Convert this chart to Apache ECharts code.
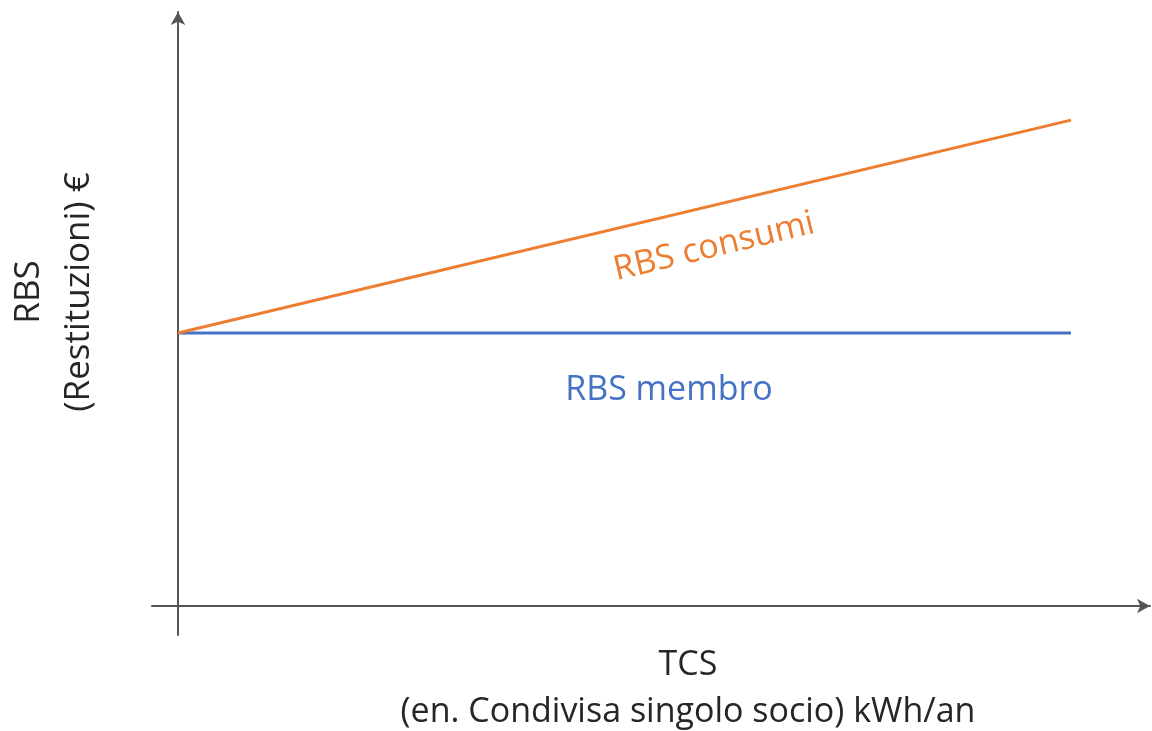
<!DOCTYPE html>
<html>
<head>
<meta charset="utf-8">
<script src="https://cdn.jsdelivr.net/npm/echarts@6/dist/echarts.min.js"></script>
<style>
  html, body { margin: 0; padding: 0; background: #fff; }
  #main { width: 1152px; height: 731px; }
</style>
</head>
<body>
<div id="main"></div>
<script>
// TCS (x) from origin to end of lines
var tcs = [0, 10];
// RBS values for the two series
var rbsMembro = [50, 50];
var rbsConsumi = [50, 89];

var chart = echarts.init(document.getElementById('main'));

function pairs(xs, ys) {
    var out = [];
    for (var i = 0; i < xs.length; i++) out.push([xs[i], ys[i]]);
    return out;
}

var fam = '"Open Sans", "Noto Sans", sans-serif';

var option = {
    animation: false,
    grid: {
        left: 152,
        right: 2,
        top: 12,
        bottom: 96
    },
    xAxis: {
        type: 'value',
        min: -0.291,
        max: 10.885,
        axisLine: {
            show: true,
            onZero: true,
            symbol: ['none', 'arrow'],
            symbolSize: [11, 13],
            lineStyle: { color: '#555', width: 2 }
        },
        axisTick: { show: false },
        axisLabel: { show: false },
        splitLine: { show: false }
    },
    yAxis: {
        type: 'value',
        min: -5.31,
        max: 108.8,
        axisLine: {
            show: true,
            onZero: true,
            symbol: ['none', 'arrow'],
            symbolSize: [11, 13],
            lineStyle: { color: '#555', width: 2 }
        },
        axisTick: { show: false },
        axisLabel: { show: false },
        splitLine: { show: false }
    },
    series: [
        {
            name: 'RBS membro',
            type: 'line',
            data: pairs(tcs, rbsMembro),
            showSymbol: false,
            lineStyle: { color: '#4472C4', width: 3 },
            z: 3
        },
        {
            name: 'RBS consumi',
            type: 'line',
            data: pairs(tcs, rbsConsumi),
            showSymbol: false,
            lineStyle: { color: '#ED7D31', width: 3 },
            z: 4
        }
    ],
    graphic: [
        {
            type: 'text',
            x: 714, y: 247,
            rotation: Math.atan(214 / 893),
            style: {
                text: 'RBS consumi',
                fill: '#ED7D31',
                fontSize: 34,
                fontFamily: fam,
                align: 'center',
                verticalAlign: 'middle'
            }
        },
        {
            type: 'text',
            x: 669, y: 390,
            style: {
                text: 'RBS membro',
                fill: '#4472C4',
                fontSize: 34,
                fontFamily: fam,
                align: 'center',
                verticalAlign: 'middle'
            }
        },
        {
            type: 'text',
            x: 54, y: 292,
            rotation: Math.PI / 2,
            style: {
                text: 'RBS\n(Restituzioni) €',
                fill: '#262626',
                fontSize: 35,
                fontFamily: fam,
                lineHeight: 50,
                align: 'center',
                verticalAlign: 'middle'
            }
        },
        {
            type: 'text',
            x: 688, y: 689,
            style: {
                text: 'TCS\n(en. Condivisa singolo socio) kWh/an',
                fill: '#262626',
                fontSize: 34,
                fontFamily: fam,
                lineHeight: 47,
                align: 'center',
                verticalAlign: 'middle'
            }
        }
    ]
};

chart.setOption(option);
</script>
</body>
</html>
